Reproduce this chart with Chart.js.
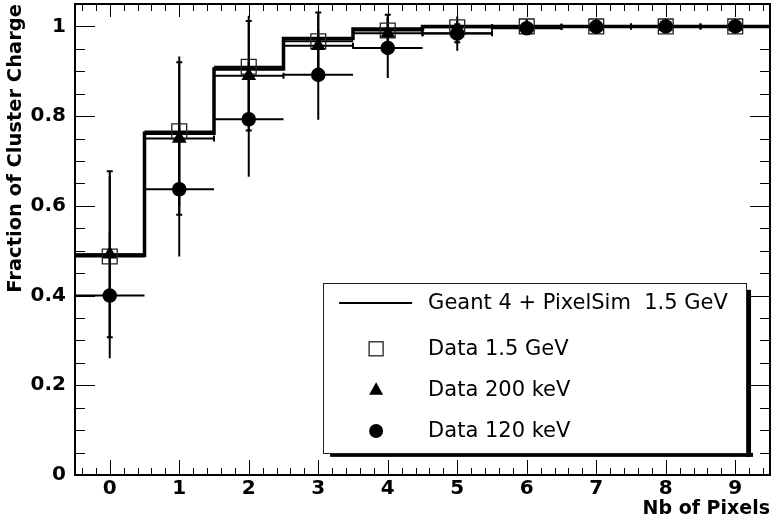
<!DOCTYPE html>
<html><head><meta charset="utf-8">
<script src="https://cdn.jsdelivr.net/npm/chart.js@4.4.1/dist/chart.umd.min.js"></script>
<style>html,body{margin:0;padding:0;background:#fff;overflow:hidden}canvas{display:block}</style>
</head><body>
<canvas id="c" width="771" height="529"></canvas>
<script>
// ---- data ----
const nbPixels = [0, 1, 2, 3, 4, 5, 6, 7, 8, 9];
const xTickValues = [0, 1, 2, 3, 4, 5, 6, 7, 8, 9];
const yTickValues = [0, 0.2, 0.4, 0.6, 0.8, 1];
const yTickLabels = ['0', '0.2', '0.4', '0.6', '0.8', '1'];
const binHalfWidth = 0.5;
const simG4 = [0.490, 0.762, 0.905, 0.973, 0.994, 1.000, 1.000, 1.000, 1.000, 1.000];
const data15GeV = [0.487, 0.766, 0.910, 0.967, 0.991, 0.998, 1.000, 1.000, 1.000, 1.000];
const err15GeV = [0.180, 0.167, 0.114, 0.060, 0.030, 0.015, 0.005, 0.003, 0.002, 0.001];
const data200keV = [0.492, 0.750, 0.890, 0.957, 0.985, 0.985, 0.999, 1.000, 1.000, 1.000];
const err200keV = [0.185, 0.170, 0.122, 0.074, 0.041, 0.020, 0.008, 0.004, 0.002, 0.001];
const data120keV = [0.400, 0.637, 0.793, 0.892, 0.952, 0.984, 0.996, 0.999, 1.000, 1.000];
const err120keV = [0.140, 0.150, 0.128, 0.100, 0.067, 0.038, 0.012, 0.005, 0.003, 0.002];
const seriesLabels = ['Geant 4 + PixelSim  1.5 GeV', 'Data 1.5 GeV', 'Data 200 keV', 'Data 120 keV'];
const xTitle = 'Nb of Pixels';
const yTitle = 'Fraction of Cluster Charge';

// ---- derived tables ----
const simSteps = nbPixels.map((p, i) => ({x: p - binHalfWidth, y: simG4[i]}))
  .concat([{x: nbPixels[nbPixels.length - 1] + binHalfWidth, y: simG4[simG4.length - 1]}]);
const pts = arr => nbPixels.map((p, i) => ({x: p, y: arr[i]}));
const errSeries = [
  {vals: data15GeV, err: err15GeV, caps: false},
  {vals: data200keV, err: err200keV, caps: true},
  {vals: data120keV, err: err120keV, caps: false}
];

const boldFont = {family: 'DejaVu Sans', weight: 'bold', size: 20};

const errorBarPlugin = {
  id: 'errbars',
  beforeDatasetsDraw(chart) {
    const {ctx, scales: {x, y}, chartArea: a} = chart;
    ctx.save();
    ctx.beginPath(); ctx.rect(a.left, a.top, a.right - a.left, a.bottom - a.top); ctx.clip();
    ctx.strokeStyle = '#000'; ctx.lineWidth = 2;
    errSeries.forEach(s => {
      nbPixels.forEach((p, i) => {
        const px = x.getPixelForValue(p), py = y.getPixelForValue(s.vals[i]);
        const x0 = x.getPixelForValue(p - binHalfWidth), x1 = x.getPixelForValue(p + binHalfWidth);
        const y0 = y.getPixelForValue(s.vals[i] - s.err[i]), y1 = y.getPixelForValue(s.vals[i] + s.err[i]);
        ctx.beginPath();
        ctx.moveTo(x0, py); ctx.lineTo(x1, py);
        ctx.moveTo(px, y0); ctx.lineTo(px, y1);
        ctx.stroke();
        if (s.caps) {
          ctx.beginPath();
          ctx.moveTo(px - 3, y0); ctx.lineTo(px + 3, y0);
          ctx.moveTo(px - 3, y1); ctx.lineTo(px + 3, y1);
          ctx.moveTo(x0, py - 3); ctx.lineTo(x0, py + 3);
          ctx.moveTo(x1, py - 3); ctx.lineTo(x1, py + 3);
          ctx.stroke();
        }
      });
    });
    ctx.restore();
  }
};

const framePlugin = {
  id: 'frame',
  afterDatasetsDraw(chart) {
    const {ctx, scales: {x, y}, chartArea: a} = chart;
    ctx.save();
    ctx.strokeStyle = '#000'; ctx.lineWidth = 1;
    ctx.beginPath();
    for (let k = -2; k <= 47; k++) {
      const v = k / 5;
      const px = Math.round(x.getPixelForValue(v)) + 0.5;
      if (px < a.left + 1 || px > a.right - 1) continue;
      const major = k % 5 === 0;
      const lb = major ? 15 : 7, lt = major ? 13 : 7;
      ctx.moveTo(px, a.bottom); ctx.lineTo(px, a.bottom - lb);
      ctx.moveTo(px, a.top); ctx.lineTo(px, a.top + lt);
    }
    for (let k = 1; k <= 21; k++) {
      const v = k / 20;
      const py = Math.round(y.getPixelForValue(v)) + 0.5;
      if (py < a.top + 1) continue;
      const major = k % 4 === 0;
      const l = major ? 20 : 10;
      ctx.moveTo(a.left, py); ctx.lineTo(a.left + l, py);
      ctx.moveTo(a.right, py); ctx.lineTo(a.right - l, py);
    }
    ctx.stroke();
    ctx.lineWidth = 2;
    ctx.strokeRect(a.left, a.top, a.right - a.left, a.bottom - a.top);
    ctx.restore();
  }
};

const legendPlugin = {
  id: 'rootLegend',
  afterDraw(chart) {
    const {ctx, chartArea: a} = chart;
    const W = a.right - a.left, H = a.bottom - a.top;
    const L = a.left + W * 0.357, R = a.left + W * 0.9655;
    const T = a.top + H * 0.592, B = a.top + H * 0.953;
    const rowFrac = [0.118, 0.388, 0.629, 0.871];
    ctx.save();
    ctx.fillStyle = '#000';
    ctx.fillRect(L + 7, B, R - L, 4);
    ctx.fillRect(R, T + 7, 5, B - T - 3);
    ctx.fillStyle = '#fff';
    ctx.fillRect(L, T, R - L, B - T);
    ctx.strokeStyle = '#222'; ctx.lineWidth = 1;
    ctx.strokeRect(Math.round(L) + 0.5, Math.round(T) + 0.5, Math.round(R - L), Math.round(B - T));
    const mx = L + 53, tx = L + 105;
    ctx.font = '21px "DejaVu Sans"';
    ctx.textBaseline = 'middle'; ctx.textAlign = 'left';
    seriesLabels.forEach((lab, i) => {
      const cy = T + (B - T) * rowFrac[i];
      ctx.fillStyle = '#000';
      ctx.fillText(lab, tx, cy + 1);
      if (i === 0) {
        ctx.strokeStyle = '#000'; ctx.lineWidth = 2;
        ctx.beginPath(); ctx.moveTo(L + 16, cy); ctx.lineTo(L + 89, cy); ctx.stroke();
      } else if (i === 1) {
        ctx.strokeStyle = '#222'; ctx.lineWidth = 1.3;
        ctx.strokeRect(mx - 7, cy - 7, 14, 14);
      } else if (i === 2) {
        ctx.beginPath(); ctx.moveTo(mx, cy - 7.5); ctx.lineTo(mx + 7, cy + 5); ctx.lineTo(mx - 7, cy + 5); ctx.closePath(); ctx.fill();
      } else {
        ctx.beginPath(); ctx.arc(mx, cy, 7, 0, Math.PI * 2); ctx.fill();
      }
    });
    ctx.restore();
  }
};

new Chart(document.getElementById('c'), {
  data: {
    datasets: [
      {type: 'line', label: seriesLabels[0], data: simSteps, stepped: 'before', borderColor: '#000', borderWidth: 3.5,
       pointRadius: 0, fill: false, order: 10},
      {type: 'scatter', label: seriesLabels[1], data: pts(data15GeV), pointStyle: 'rect', pointRadius: 10.5,
       backgroundColor: 'rgba(0,0,0,0)', borderColor: '#222', borderWidth: 1.3, order: 3},
      {type: 'scatter', label: seriesLabels[2], data: pts(data200keV), pointStyle: 'triangle', pointRadius: 8.5,
       backgroundColor: '#000', borderColor: '#000', borderWidth: 0, order: 2},
      {type: 'scatter', label: seriesLabels[3], data: pts(data120keV), pointStyle: 'circle', pointRadius: 7.3,
       backgroundColor: '#000', borderColor: '#000', borderWidth: 0, order: 1}
    ]
  },
  options: {
    responsive: false, animation: false, devicePixelRatio: 1,
    layout: {autoPadding: false, padding: {top: 4, right: 1, left: 0, bottom: 0}},
    plugins: {legend: {display: false}, tooltip: {enabled: false}},
    scales: {
      x: {
        type: 'linear', min: -0.5, max: 9.5,
        afterBuildTicks: s => { s.ticks = xTickValues.map(v => ({value: v})); },
        afterFit: s => { s.height = 54; s.paddingLeft = 0; s.paddingRight = 0; },
        grid: {display: false, drawTicks: false}, border: {display: false},
        ticks: {font: boldFont, color: '#000', padding: 2, maxRotation: 0, autoSkip: false},
        title: {display: true, text: xTitle, align: 'end', font: {family: 'DejaVu Sans', weight: 'bold', size: 19},
                color: '#000', padding: {top: 0, bottom: 9}}
      },
      y: {
        type: 'linear', min: 0, max: 1.05,
        afterBuildTicks: s => { s.ticks = yTickValues.map(v => ({value: v})); },
        afterFit: s => { s.width = 75; s.paddingTop = 0; s.paddingBottom = 0; },
        grid: {display: false, drawTicks: false}, border: {display: false},
        ticks: {font: boldFont, color: '#000', padding: 9,
                callback: v => { const i = yTickValues.indexOf(v); return i >= 0 ? yTickLabels[i] : ''; }},
        title: {display: true, text: yTitle, align: 'end', font: {family: 'DejaVu Sans', weight: 'bold', size: 19.5},
                color: '#000', padding: {top: 4, bottom: 0}}
      }
    }
  },
  plugins: [errorBarPlugin, framePlugin, legendPlugin]
});
</script>
</body></html>
